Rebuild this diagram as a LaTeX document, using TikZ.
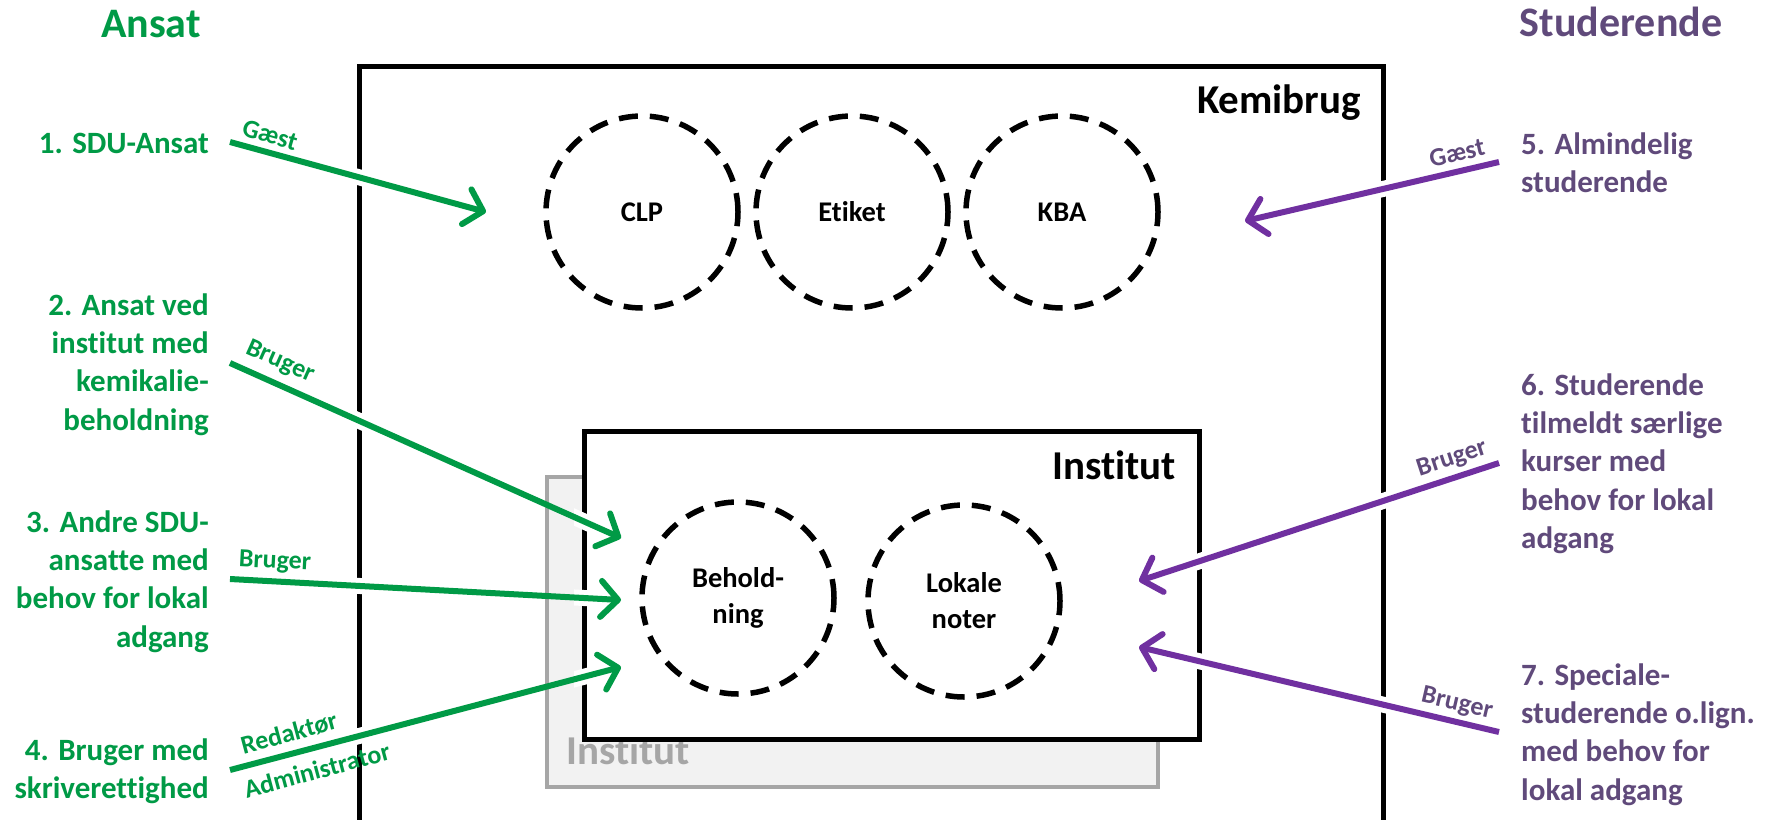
\documentclass[tikz,border=0pt]{standalone}
\usepackage{fontspec}
\setmainfont{Carlito}[Ligatures=NoCommon]
\usetikzlibrary{arrows.meta}
\definecolor{sgreen}{HTML}{009A46}
\definecolor{ptext}{HTML}{604A7B}
\definecolor{parrow}{HTML}{7030A0}
\definecolor{gline}{HTML}{A6A6A6}
\definecolor{gfill}{HTML}{F2F2F2}
\newcommand{\myfs}[2]{\fontsize{#1}{#2}\selectfont}
\begin{document}
\begin{tikzpicture}[x=1pt,y=-1pt,
  title/.style={font=\bfseries\myfs{42}{50}, inner sep=0, anchor=base},
  boxlabel/.style={font=\bfseries\myfs{41}{49}, inner sep=0},
  item/.style={font=\bfseries\myfs{31}{38.3}, inner sep=0},
  itemL/.style={item, align=right, anchor=north east, text=sgreen},
  itemR/.style={item, align=left, anchor=north west, text=ptext},
  dcirc/.style={circle, draw=black, line width=5.5pt, dash pattern=on 19pt off 12pt, minimum size=192pt, inner sep=0, align=center, font=\bfseries\myfs{28.5}{36}},
  alabel/.style={font=\bfseries\myfs{26}{30}, inner sep=0},
  boxstyle/.style={draw=black, line width=5pt, fill=white, inner sep=0, anchor=north west},
  garrow/.style={draw=sgreen, line width=6pt, -{Straight Barb[length=17pt,width=36pt,round]}},
  parr/.style={draw=parrow, line width=6pt, -{Straight Barb[length=17pt,width=36pt,round]}},
  halo/.style={draw=white, line width=16pt},
]
\useasboundingbox[fill=white] (0,0) rectangle (1777,819);

% titles
\node[title, text=sgreen] (tansat) at (151,37) {Ansat};
\node[title, text=ptext] (tstud) at (1621,36) {Studerende};

% boxes
\node[boxstyle, minimum width=1024pt, minimum height=756pt] (kemibrug) at (357,64) {};
\node[font=\bfseries\myfs{41}{49}, inner sep=0, anchor=base east] (lkemi) at (1361,113) {Kemibrug};

\node[draw=gline, fill=gfill, line width=4pt, inner sep=0, anchor=north west, minimum width=611pt, minimum height=310pt] (ginst) at (545,475) {};
\node[boxlabel, text=gline, anchor=base west] (lginst) at (566,764) {Institut};

\node[boxstyle, minimum width=615pt, minimum height=308pt] (inst) at (582,429) {};
\node[boxlabel, anchor=base east] (linst) at (1176,479) {Institut};

% circles
\node[dcirc] (clp) at (642,212) {CLP};
\node[dcirc] (etiket) at (852,212) {Etiket};
\node[dcirc] (kba) at (1062,212) {KBA};
\node[dcirc] (behold) at (738,598) {Behold-\\ning};
\node[dcirc] (lokale) at (964,601) {Lokale\\noter};

% item labels
\node[itemL] (i1) at (209,126.2) {\strut 1. SDU-Ansat};
\node[itemL] (i2) at (209,288.2) {\strut 2. Ansat ved\\institut med\\kemikalie-\\beholdning};
\node[itemL] (i3) at (209,505.2) {\strut 3. Andre SDU-\\ansatte med\\behov for lokal\\adgang};
\node[itemL] (i4) at (209,733.2) {\strut 4. Bruger med\\skriverettighed};
\node[itemR] (i5) at (1521,127.2) {\strut 5. Almindelig\\studerende};
\node[itemR] (i6) at (1521,368.2) {\strut 6. Studerende\\tilmeldt særlige\\kurser med\\behov for lokal\\adgang};
\node[itemR] (i7) at (1521,658.2) {\strut 7. Speciale-\\studerende o.lign.\\med behov for\\lokal adgang};

% arrow end points
\coordinate (a1s) at (230,142);  \coordinate (a1e) at (486,212);
\coordinate (a2s) at (230,363);  \coordinate (a2e) at (621,538);
\coordinate (a3s) at (230,579);  \coordinate (a3e) at (621,600);
\coordinate (a4s) at (230,770);  \coordinate (a4e) at (621,667);
\coordinate (a5s) at (1499,162); \coordinate (a5e) at (1245,221);
\coordinate (a6s) at (1499,463); \coordinate (a6e) at (1139,581);
\coordinate (a7s) at (1499,732); \coordinate (a7e) at (1139,647);

% white gaps where arrows cross black lines
\begin{scope}
\clip (349,0) rectangle (365,819) (574,0) rectangle (590,819) (1189,0) rectangle (1205,819) (1373,0) rectangle (1389,819);
\foreach \s/\e in {a1s/a1e,a2s/a2e,a3s/a3e,a4s/a4e,a5s/a5e,a6s/a6e,a7s/a7e}
  \draw[halo] (\s) -- (\e);
\end{scope}

% arrows
\draw[garrow] (a1s) -- (a1e);
\draw[garrow] (a2s) -- (a2e);
\draw[garrow] (a3s) -- (a3e);
\draw[garrow] (a4s) -- (a4e);
\draw[parr] (a5s) -- (a5e);
\draw[parr] (a6s) -- (a6e);
\draw[parr] (a7s) -- (a7e);

% arrow labels
\node[alabel, text=sgreen, rotate=-16] (l1) at (270,135) {Gæst};
\node[alabel, text=sgreen, rotate=-24] (l2) at (280,362) {Bruger};
\node[alabel, text=sgreen, rotate=-3] (l3) at (275,562) {Bruger};
\node[alabel, text=sgreen, rotate=15] (l4a) at (289,733) {Redaktør};
\node[alabel, text=sgreen, rotate=15] (l4b) at (317,770) {Administrator};
\node[alabel, text=ptext, rotate=13] (l5) at (1457,153) {Gæst};
\node[alabel, text=ptext, rotate=18] (l6) at (1452,459) {Bruger};
\node[alabel, text=ptext, rotate=-13] (l7) at (1457,704) {Bruger};
\end{tikzpicture}
\end{document}
